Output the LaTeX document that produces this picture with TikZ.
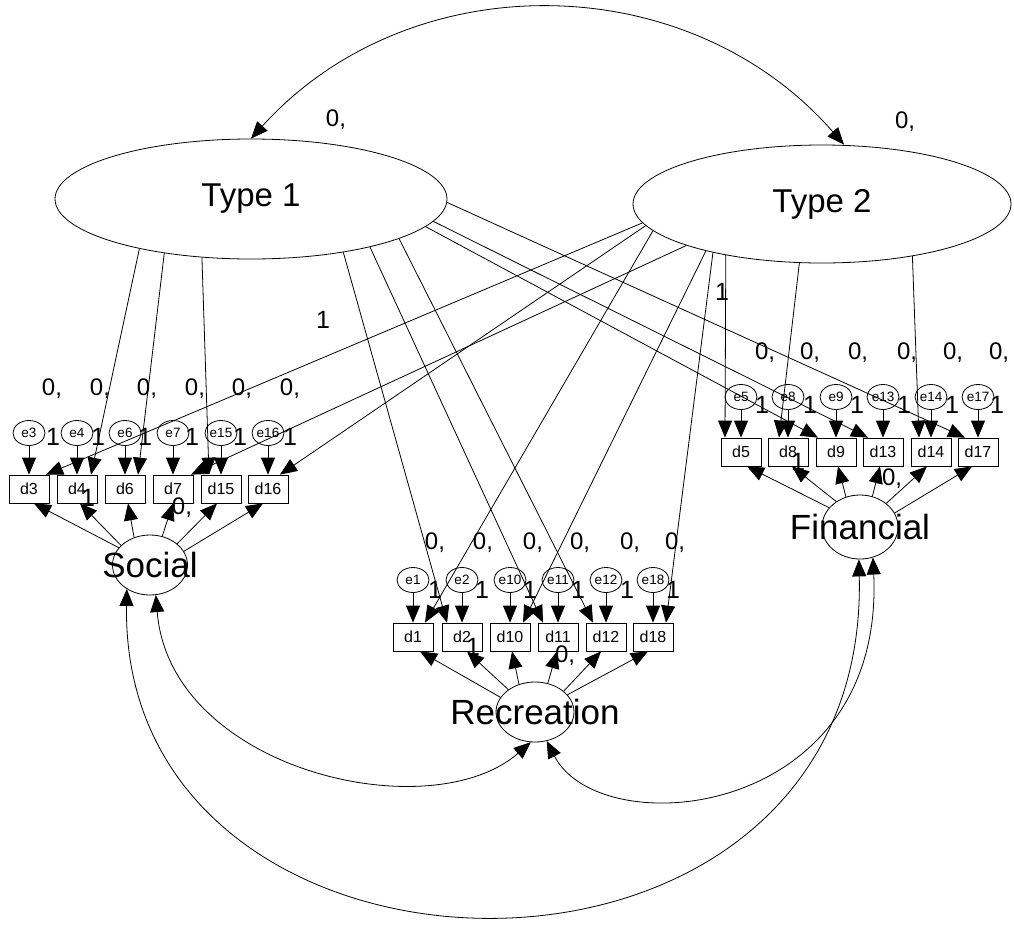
\documentclass[tikz,border=0pt]{standalone}
\usepackage{fontspec}
\setmainfont{Liberation Sans}
\usetikzlibrary{arrows.meta,shapes.geometric}
\begin{document}
\begin{tikzpicture}[x=1pt,y=-1pt,line width=0.8pt,
  ar/.style={-{Triangle[length=17pt,width=14pt]}},
  dar/.style={{Triangle[length=17pt,width=14pt]}-{Triangle[length=17pt,width=14pt]}},
  latent/.style={draw,ellipse,inner sep=0pt,font=\fontsize{35}{35}\selectfont},
  err/.style={draw,ellipse,minimum width=32pt,minimum height=25pt,inner sep=0pt,font=\fontsize{13.5}{14}\selectfont},
  obs/.style={draw,rectangle,minimum width=40pt,minimum height=28pt,inner sep=0pt,font=\fontsize{16}{16}\selectfont},
  num/.style={font=\fontsize{24}{24}\selectfont,inner sep=0pt},
  one/.style={font=\fontsize{25}{25}\selectfont,inner sep=0pt},
]
\useasboundingbox[fill=white] (0,0) rectangle (1014,924);

% latent variables
\node[latent,minimum width=392pt,minimum height=120pt,font=\fontsize{33}{33}\selectfont] (T1) at (251,199) {\makebox[0pt]{Type 1}};
\node[latent,minimum width=378pt,minimum height=118pt,font=\fontsize{33}{33}\selectfont] (T2) at (822,204) {\makebox[0pt]{Type 2}};
\node[latent,minimum width=75pt,minimum height=60pt] (Soc) at (150,565) {\makebox[0pt]{Social}};
\node[latent,minimum width=78pt,minimum height=60pt] (Rec) at (535,712) {\makebox[0pt]{Recreation}};
\node[latent,minimum width=76pt,minimum height=64pt] (Fin) at (860,527) {\makebox[0pt]{Financial}};

% indicators and errors
\foreach \n/\x in {3/29,4/77,6/125,7/173,15/221,16/268} {
  \node[err] (e\n) at (\x,433) {\makebox[0pt]{e\n}};
  \node[obs] (d\n) at (\x,489) {d\n};
  \draw[ar] (e\n) -- (d\n);
}
\foreach \n/\x in {1/413,2/462,10/510,11/558,12/606,18/653} {
  \node[err] (e\n) at (\x,580) {\makebox[0pt]{e\n}};
  \node[obs] (d\n) at (\x,637) {d\n};
  \draw[ar] (e\n) -- (d\n);
}
\foreach \n/\x in {5/741,8/788,9/836,13/883,14/931,17/978} {
  \node[err] (e\n) at (\x,397) {\makebox[0pt]{e\n}};
  \node[obs] (d\n) at (\x,452) {d\n};
  \draw[ar] (e\n) -- (d\n);
}

% loadings of Type 1
\draw[ar] (T1.204) -- ([xshift=14pt]d4.north);
\draw[ar] (T1.212) -- ([xshift=13pt]d6.north);
\draw[ar] (T1.230) -- ([xshift=-12pt]d15.north);
\draw[ar] (T1.330) -- ([xshift=-15pt]d2.north);
\draw[ar] (T1.338) -- ([xshift=-15pt]d11.north);
\draw[ar] (T1.345) -- ([xshift=-13pt]d12.north);
\draw[ar] (T1.351) -- ([xshift=-18pt]d9.north);
\draw[ar] (T1.353) -- ([xshift=-15pt]d13.north);
\draw[ar] (T1.359) -- ([xshift=-13pt]d17.north);

% loadings of Type 2
\draw[ar] (T2.186) -- ([xshift=17pt]d3.north);
\draw[ar] (T2.187) -- ([xshift=12pt]d16.north);
\draw[ar] (T2.189) -- ([xshift=12pt]d1.north);
\draw[ar] (T2.197) -- ([xshift=18pt]d7.north);
\draw[ar] (T2.202) -- ([xshift=13pt]d10.north);
\draw[ar] (T2.204) -- ([xshift=13pt]d18.north);
\draw[ar] (T2.208) -- ([xshift=-16pt]d5.north);
\draw[ar] (T2.249) -- ([xshift=-9pt]d8.north);
\draw[ar] (T2.330) -- ([xshift=-12pt]d14.north);

% loadings of Social, Recreation, Financial
\draw[ar] (Soc.151) -- ([xshift=5pt]d3.south);
\draw[ar] (Soc.146) -- ([xshift=3pt]d4.south);
\draw[ar] (Soc.120) -- ([xshift=3pt]d6.south);
\draw[ar] (Soc.67) -- (d7.south);
\draw[ar] (Soc.38) -- ([xshift=-4pt]d15.south);
\draw[ar] (Soc.22) -- ([xshift=-5pt]d16.south);

\draw[ar] (Rec.157) -- ([xshift=7pt]d1.south);
\draw[ar] (Rec.140) -- ([xshift=5pt]d2.south);
\draw[ar] (Rec.120) -- ([xshift=2pt]d10.south);
\draw[ar] (Rec.66) -- ([xshift=-1pt]d11.south);
\draw[ar] (Rec.36) -- ([xshift=-5pt]d12.south);
\draw[ar] (Rec.28) -- ([xshift=-5pt]d18.south);

\draw[ar] (Fin.148) -- ([xshift=6pt]d5.south);
\draw[ar] (Fin.133) -- ([xshift=4pt]d8.south);
\draw[ar] (Fin.115) -- ([xshift=2pt]d9.south);
\draw[ar] (Fin.68) -- ([xshift=-3pt]d13.south);
\draw[ar] (Fin.42) -- ([xshift=-4pt]d14.south);
\draw[ar] (Fin.22) -- ([xshift=-6pt]d17.south);

% covariances
\draw[dar] (T1.north) .. controls (410,-37) and (688,-34) .. ([xshift=22pt]T2.north);
\draw[dar] (Soc.281) .. controls (170,770) and (430,830) .. (Rec.262);
\draw[dar] (Rec.292) .. controls (600,845) and (885,820) .. (Fin.293);
\draw[dar] (Soc.226) .. controls (120,1020) and (870,1035) .. (Fin.268);

% labels
\node[num] (lt1) at (336,120) {0,};
\node[num] (lt2) at (905,122) {0,};
\node[one] (lo1) at (323,320) {1};
\node[one] (lo2) at (722,292) {1};

\foreach \x [count=\i] in {52,100,147,195,242,290} \node[num] (sz\i) at (\x,389) {0,};
\foreach \x [count=\i] in {53,98,145,192,240,290} \node[one] (so\i) at (\x,437) {1};
\foreach \x [count=\i] in {435,483,533,580,630,675} \node[num] (rz\i) at (\x,543) {0,};
\foreach \x [count=\i] in {435,482,530,578,627,673} \node[one] (ro\i) at (\x,590) {1};
\foreach \x [count=\i] in {765,810,858,907,953,999} \node[num] (fz\i) at (\x,353) {0,};
\foreach \x [count=\i] in {762,810,857,904,952,997} \node[one] (fo\i) at (\x,405) {1};

\node[one] (so0) at (88,498) {1};
\node[num] (sz0) at (182,508) {0,};
\node[one] (ro0) at (473,647) {1};
\node[num] (rz0) at (565,656) {0,};
\node[one] (fo0) at (798,462) {1};
\node[num] (fz0) at (892,479) {0,};
\end{tikzpicture}
\end{document}
